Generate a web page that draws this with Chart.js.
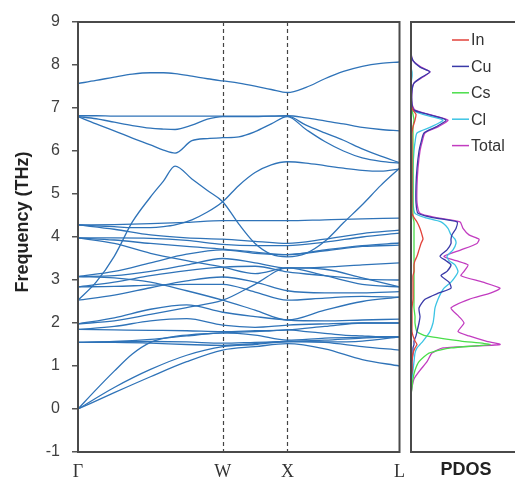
<!DOCTYPE html>
<html><head><meta charset="utf-8">
<script src="https://cdn.jsdelivr.net/npm/chart.js@4.4.1/dist/chart.umd.min.js"></script>
<style>
html,body{margin:0;padding:0;background:#fff;overflow:hidden;}
#wrap{position:relative;width:515px;height:479px;overflow:hidden;}
#c1{position:absolute;left:0;top:0;}
#c2{position:absolute;left:405px;top:0;}
</style></head><body>
<div id="wrap"><canvas id="c1" width="414" height="479"></canvas><canvas id="c2" width="116" height="479"></canvas></div>
<script>
// ---- k-path (Γ-W-X-L) ----
const kTickPos = [0, 1.118, 1.618, 2.484];
const kTickLabels = ['Γ', 'W', 'X', 'L'];
const yTitle = 'Frequency (THz)';
const kFine = [0,0.14,0.28,0.42,0.56,0.66,0.75,0.88,1.0,1.118,1.243,1.368,1.493,1.618,1.762,1.907,2.051,2.196,2.340,2.484];
const kCoarse = [0,0.28,0.56,0.84,1.118,1.368,1.618,1.907,2.196,2.484];

// ---- phonon bands (THz), fine grid ----
const bandTop = [7.57,7.64,7.72,7.79,7.82,7.82,7.80,7.74,7.68,7.63,7.58,7.51,7.43,7.36,7.48,7.68,7.85,7.97,8.04,8.07];
const band29  = [6.82,6.82,6.81,6.81,6.81,6.81,6.81,6.81,6.81,6.81,6.81,6.81,6.81,6.82,6.77,6.70,6.63,6.55,6.50,6.47];
const band28  = [6.80,6.75,6.67,6.59,6.53,6.51,6.50,6.60,6.74,6.80,6.80,6.80,6.81,6.81,6.60,6.42,6.25,6.05,5.88,5.73];
const band27  = [6.80,6.63,6.47,6.30,6.14,6.02,5.95,6.24,6.29,6.31,6.33,6.45,6.63,6.80,6.50,6.22,6.00,5.84,5.76,5.72];
const band26  = [4.28,4.26,4.24,4.22,4.22,4.24,4.28,4.40,4.58,4.82,5.20,5.50,5.68,5.75,5.72,5.66,5.60,5.55,5.53,5.58];
const bandD   = [2.53,2.95,3.55,4.35,4.93,5.30,5.65,5.35,5.08,4.82,4.30,3.85,3.60,3.54,3.62,3.90,4.33,4.75,5.20,5.60];
const bandLA  = [0,0.45,0.88,1.28,1.55,1.64,1.69,1.73,1.75,1.77,1.79,1.80,1.82,1.84,1.80,1.76,1.72,1.70,1.68,1.68];

// ---- phonon bands (THz), coarse grid ----
const bandA1  = [0,0.38,0.75,1.10,1.37,1.45,1.52,1.40,1.15,1.00];
const bandA2  = [0,0.50,0.92,1.25,1.45,1.50,1.57,1.55,1.45,1.37];
const bandO1  = [1.55,1.56,1.57,1.56,1.53,1.55,1.57,1.60,1.65,1.68];
const bandO2  = [1.55,1.55,1.53,1.50,1.48,1.52,1.57,1.56,1.58,1.68];
const bandO3  = [1.55,1.57,1.62,1.70,1.77,1.72,1.60,1.65,1.67,1.68];
const bandM5  = [1.85,1.84,1.83,1.82,1.80,1.82,1.84,1.92,2.00,2.00];
const bandM4  = [1.85,1.92,2.05,2.10,1.95,1.90,1.95,1.98,2.00,2.00];
const bandM3  = [1.98,2.12,2.32,2.42,2.25,2.15,2.07,2.05,2.07,2.09];
const bandM1  = [1.98,2.05,2.20,2.36,2.53,2.90,3.28,3.10,2.90,2.84];
const bandM2  = [3.08,3.05,2.95,2.75,2.53,2.30,2.07,2.30,2.50,2.60];
const bandM8  = [2.53,2.65,2.82,2.98,3.07,2.95,2.75,2.70,2.70,2.73];
const bandM9  = [2.84,2.85,2.88,2.90,2.90,2.72,2.53,2.58,2.62,2.60];
const bandM10 = [2.84,2.95,3.10,3.22,3.30,3.32,3.19,3.10,3.02,3.00];
const bandM11 = [3.08,3.10,3.20,3.35,3.50,3.40,3.28,3.30,3.35,3.40];
const bandM12 = [3.08,3.20,3.40,3.60,3.70,3.62,3.59,3.68,3.78,3.81];
const bandF1  = [4.28,4.29,4.31,4.34,4.38,4.38,4.38,4.40,4.42,4.44];
const bandF2  = [4.28,4.18,4.05,3.98,3.95,3.90,3.85,3.95,4.08,4.16];
const bandF3  = [3.98,3.98,3.97,3.92,3.83,3.80,3.80,3.88,4.00,4.09];
const bandF4  = [3.98,3.93,3.85,3.78,3.72,3.65,3.59,3.70,3.80,3.86];
const bandF5  = [3.98,3.85,3.62,3.45,3.30,3.15,3.28,3.25,3.05,2.84];

const fineBands = [bandTop, band29, band28, band27, band26, bandD, bandLA];
const coarseBands = [bandA1, bandA2, bandO1, bandO2, bandO3, bandM5, bandM4, bandM3, bandM1, bandM2,
  bandM8, bandM9, bandM10, bandM11, bandM12, bandF1, bandF2, bandF3, bandF4, bandF5];

// ---- PDOS ----
const pdosFreq  = [-1,0.3,0.5,0.7,0.9,1.1,1.3,1.42,1.5,1.58,1.7,1.8,2.0,2.15,2.35,2.55,2.7,2.81,2.95,3.1,3.2,3.35,3.45,3.55,3.7,3.85,3.95,4.05,4.2,4.35,4.45,4.55,4.8,5.2,5.6,6.0,6.2,6.42,6.56,6.72,6.85,6.95,7.1,7.4,7.58,7.72,7.84,7.95,8.1,8.3,9];
const pdosIn    = [0,0,0,0,1,1,2,4,6,4,2,1,1,1,1,2,2,2,2,2,3,3,4,6,8,10,12,11,9,6,3,1,1,1,1,1,1,1,2,4,5,2,0,0,0,0,0,0,0,0,0];
const pdosCu    = [0,0,0,0,1,1,2,2,3,3,5,6,8,9,8,14,28,40,38,30,36,40,35,29,36,40,40,41,45,46,22,7,5,5,6,8,10,13,25,35,17,3,1,1,3,11,19,9,2,0,0];
const pdosCs    = [0,0,1,2,4,8,18,40,79,50,15,6,4,4,3,3,3,3,3,3,3,3,3,3,3,3,3,3,3,3,2,2,2,2,2,2,2,2,2,3,2,1,0,0,0,0,0,0,0,0,0];
const pdosCl    = [0,0,0,1,2,3,4,6,9,12,16,19,22,23,24,27,30,33,40,45,47,44,38,36,42,45,44,40,37,30,14,4,2,2,2,3,4,6,20,32,12,2,0,0,0,1,1,0,0,0,0];
const pdosTotal = [0,0,1,3,9,16,21,32,89,75,58,47,53,48,40,58,80,89,72,50,53,57,45,33,50,66,68,58,52,49,25,9,6,6,7,9,11,14,27,37,18,4,1,1,3,12,19,10,2,0,0];
const pdosNames  = ['In','Cu','Cs','Cl','Total'];
const pdosColors = ['#e2423a','#3a3aa8','#4ade4a','#3cc4e4','#c23cc0'];
const pdosSeries = [pdosIn, pdosCu, pdosCs, pdosCl, pdosTotal];

const BAND_COLOR = '#2f73b8';
const mkBand = (grid, vals) => ({
  data: grid.map((x, i) => ({x, y: vals[i]})),
  borderColor: BAND_COLOR, borderWidth: 1.3, pointRadius: 0,
  showLine: true, cubicInterpolationMode: 'monotone', fill: false
});
const bandDatasets = fineBands.map(b => mkBand(kFine, b)).concat(coarseBands.map(b => mkBand(kCoarse, b)));

const framePlugin = {
  id: 'frame',
  beforeDatasetsDraw(chart) {
    const {ctx, chartArea: a, scales: {x}} = chart;
    ctx.save();
    ctx.strokeStyle = '#444'; ctx.lineWidth = 1.2; ctx.setLineDash([4, 3]);
    [kTickPos[1], kTickPos[2]].forEach(v => {
      const px = Math.round(x.getPixelForValue(v)) + 0.5;
      ctx.beginPath(); ctx.moveTo(px, a.top); ctx.lineTo(px, a.bottom); ctx.stroke();
    });
    ctx.restore();
  },
  afterDatasetsDraw(chart) {
    const {ctx, chartArea: a} = chart;
    ctx.save();
    ctx.strokeStyle = '#4a4a4a'; ctx.lineWidth = 2;
    ctx.strokeRect(a.left, a.top, a.right - a.left, a.bottom - a.top);
    // y-axis title
    ctx.translate(23, 222);
    ctx.rotate(-Math.PI / 2);
    ctx.font = 'bold 18px "Liberation Sans", Arial, sans-serif';
    ctx.fillStyle = '#222'; ctx.textAlign = 'center'; ctx.textBaseline = 'middle';
    ctx.fillText(yTitle, 0, 0);
    ctx.restore();
  }
};

new Chart(document.getElementById('c1'), {
  type: 'scatter',
  data: {datasets: bandDatasets},
  options: {
    responsive: false, animation: false, devicePixelRatio: 1,
    layout: {padding: {left: 0, right: 14, top: 22, bottom: 0}},
    plugins: {legend: {display: false}, tooltip: {enabled: false}},
    scales: {
      x: {
        type: 'linear', min: 0, max: kTickPos[3],
        afterBuildTicks: s => { s.ticks = kTickPos.map(v => ({value: v})); },
        afterFit: s => { s.height = 27; },
        grid: {display: false, drawTicks: false},
        border: {display: false},
        ticks: {autoSkip: false, maxRotation: 0, padding: 9, color: '#333',
          font: {family: '"Liberation Serif", "Times New Roman", serif', size: 18},
          callback: (v, i) => kTickLabels[i]}
      },
      y: {
        min: -1, max: 9,
        afterFit: s => { s.width = 78; },
        grid: {display: true, drawOnChartArea: false, drawTicks: true, tickLength: 6, color: '#555', lineWidth: 1.5},
        border: {display: false},
        ticks: {stepSize: 1, padding: 12, color: '#404040',
          font: {family: '"Liberation Sans", Arial, sans-serif', size: 16}}
      }
    }
  },
  plugins: [framePlugin]
});

const pdosFramePlugin = {
  id: 'pdosFrame',
  afterDatasetsDraw(chart) {
    const {ctx, chartArea: a} = chart;
    ctx.save();
    ctx.strokeStyle = '#4a4a4a'; ctx.lineWidth = 2;
    ctx.strokeRect(a.left, a.top, a.right - a.left + 4, a.bottom - a.top);
    ctx.font = '16px "Liberation Sans", Arial, sans-serif';
    ctx.textBaseline = 'middle';
    chart.data.datasets.forEach((ds, i) => {
      const y = a.top + 18 + i * 26.4;
      const x0 = a.left + 41;
      ctx.strokeStyle = ds.borderColor; ctx.lineWidth = 1.5;
      ctx.beginPath(); ctx.moveTo(x0, y); ctx.lineTo(x0 + 17, y); ctx.stroke();
      ctx.fillStyle = '#333';
      ctx.fillText(ds.label, x0 + 19, y + 1);
    });
    ctx.restore();
  }
};

new Chart(document.getElementById('c2'), {
  type: 'scatter',
  data: {datasets: pdosSeries.map((s, k) => ({
    label: pdosNames[k],
    data: pdosFreq.map((f, i) => ({x: s[i], y: f})),
    borderColor: pdosColors[k], borderWidth: 1.3, pointRadius: 0,
    showLine: true, tension: 0.2, fill: false
  }))},
  options: {
    responsive: false, animation: false, devicePixelRatio: 1,
    layout: {padding: {left: 6, right: 0, top: 22, bottom: 0}},
    plugins: {legend: {display: false}, tooltip: {enabled: false}},
    scales: {
      x: {
        type: 'linear', min: 0, max: 110,
        afterFit: s => { s.height = 27; },
        grid: {display: false, drawTicks: false},
        border: {display: false},
        ticks: {display: false},
        title: {display: true, text: 'PDOS', color: '#222',
          font: {family: '"Liberation Sans", Arial, sans-serif', size: 18, weight: 'bold', lineHeight: 1},
          padding: {top: 0, bottom: 0}}
      },
      y: {min: -1, max: 9, display: false}
    }
  },
  plugins: [pdosFramePlugin]
});
</script>
</body></html>
